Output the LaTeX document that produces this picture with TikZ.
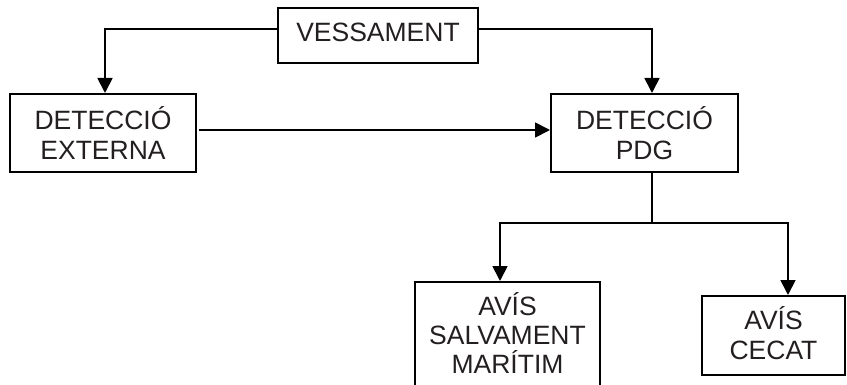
\documentclass[tikz,border=0pt]{standalone}
\usepackage{fontspec}
\setmainfont{Liberation Sans}
\usetikzlibrary{arrows.meta}
\definecolor{txt}{HTML}{231F20}
\begin{document}
\begin{tikzpicture}[x=1pt,y=-1pt,
  box/.style={draw=black, line width=2pt, align=center, inner sep=0pt,
              font=\fontsize{26.5}{30.5}\selectfont, text=txt},
  arr/.style={line width=1.8pt, -{Triangle[length=15pt,width=15pt]}},
  ln/.style={line width=1.8pt}]
\useasboundingbox (0,0) rectangle (847,385);
\clip (0,0) rectangle (847,385);
\node[box, minimum width=200, minimum height=55, text height=19pt, text depth=6pt] (ves) at (378,35.5) {VESSAMENT};
\node[box, minimum width=186, minimum height=78] (ext) at (103,133) {DETECCIÓ\\EXTERNA};
\node[box, minimum width=187, minimum height=78] (pdg) at (644.5,133) {DETECCIÓ\\PDG};
\node[box, font=\fontsize{26.5}{29}\selectfont, minimum width=185, minimum height=113, text depth=10pt] (sal) at (507.5,338.5) {AVÍS\\SALVAMENT\\MARÍTIM};
\node[box, minimum width=143, minimum height=79, text depth=5pt] (cec) at (773.5,335.5) {AVÍS\\CECAT};
\coordinate (j) at (652,223);
\draw[arr] ([yshift=6.5pt]ves.west) -| ([xshift=2pt]ext.north);
\draw[arr] ([yshift=6.5pt]ves.east) -| ([xshift=7.5pt]pdg.north);
\draw[arr] ([xshift=2pt,yshift=3pt]ext.east) -- ([yshift=3pt]pdg.west);
\draw[ln] ([xshift=7.5pt]pdg.south) -- (j);
\draw[arr] (j) -| ([xshift=-7.5pt]sal.north);
\draw[arr] (j) -| ([xshift=14.5pt]cec.north);
\end{tikzpicture}
\end{document}
